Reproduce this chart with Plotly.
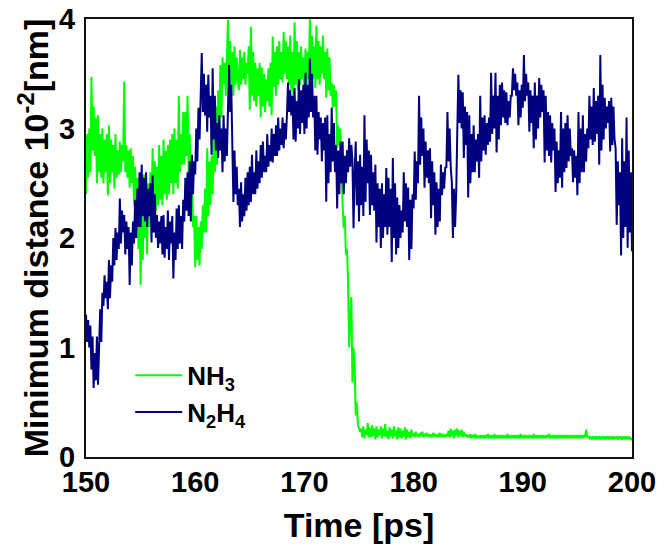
import numpy as np
import plotly.graph_objects as go

# time grid: 150 to 200 ps, 0.1 ps step
time_ps = np.round(np.arange(150.0, 200.00001, 0.1), 1)

# NH3 minimum distance (10^-2 nm), 10 samples per ps
nh3 = [
    2.40, 2.95, 2.55, 3.00, 2.60, 3.47, 2.80, 3.20, 2.75, 3.10,  # 150
    2.50, 3.12, 2.60, 2.95, 2.55, 3.00, 2.50, 2.90, 2.60, 2.95,  # 151
    2.39, 3.03, 2.50, 2.90, 2.60, 2.85, 2.45, 2.95, 2.55, 2.80,  # 152
    2.58, 2.88, 2.60, 2.85, 2.70, 3.43, 2.60, 2.85, 2.55, 2.80,  # 153
    2.46, 2.82, 2.50, 2.75, 2.30, 2.65, 2.10, 2.55, 1.90, 2.40,  # 154
    1.57, 2.30, 1.80, 2.58, 2.00, 2.45, 1.85, 2.50, 2.10, 2.60,  # 155
    2.20, 2.82, 2.30, 2.70, 2.25, 2.65, 2.30, 2.85, 2.35, 2.75,  # 156
    2.30, 2.90, 2.40, 2.80, 2.35, 2.85, 2.40, 2.90, 2.50, 2.95,  # 157
    2.40, 3.00, 2.50, 2.90, 2.45, 3.30, 2.60, 2.95, 2.67, 3.15,  # 158
    2.67, 3.15, 2.75, 3.30, 2.60, 2.95, 2.30, 2.60, 2.10, 2.20,  # 159
    1.73, 2.20, 1.80, 2.10, 1.75, 2.15, 1.90, 2.30, 2.05, 2.45,  # 160
    2.05, 2.82, 2.20, 2.70, 2.30, 2.75, 2.40, 2.90, 2.60, 3.20,  # 161
    2.67, 3.35, 2.90, 3.58, 3.10, 3.65, 3.41, 3.60, 3.30, 3.70,  # 162
    3.99, 3.26, 3.80, 3.40, 3.70, 3.30, 3.75, 3.40, 3.65, 3.45,  # 163
    3.35, 3.72, 3.40, 3.65, 3.45, 3.70, 3.40, 3.60, 3.50, 3.75,  # 164
    3.17, 3.93, 3.30, 3.70, 3.25, 3.60, 3.20, 3.55, 3.30, 3.60,  # 165
    3.10, 3.56, 3.20, 3.50, 3.15, 3.45, 3.25, 3.55, 3.20, 3.60,  # 166
    3.12, 3.84, 3.38, 3.70, 3.30, 3.75, 3.40, 3.80, 3.45, 3.70,  # 167
    3.42, 3.88, 3.50, 3.80, 3.45, 3.75, 3.40, 3.85, 3.35, 3.70,  # 168
    3.28, 3.97, 3.40, 3.80, 3.35, 3.70, 3.40, 3.75, 3.45, 3.65,  # 169
    3.33, 3.73, 3.40, 3.70, 3.45, 4.00, 3.50, 3.85, 3.45, 3.75,  # 170
    3.37, 3.94, 3.45, 3.80, 3.40, 3.75, 3.50, 3.85, 3.45, 3.70,  # 171
    3.28, 3.73, 3.35, 3.65, 3.30, 3.42, 3.19, 3.40, 3.20, 3.35,  # 172
    2.82, 3.03, 2.85, 3.00, 2.50, 2.30, 2.09, 2.20, 1.85, 1.90,  # 173
    1.60, 1.00, 1.30, 1.46, 0.68, 1.00, 0.84, 0.38, 0.50, 0.30,  # 174
    0.26, 0.23, 0.26, 0.18, 0.28, 0.17, 0.25, 0.20, 0.31, 0.18,  # 175
    0.27, 0.18, 0.29, 0.19, 0.26, 0.16, 0.28, 0.18, 0.25, 0.20,  # 176
    0.28, 0.17, 0.26, 0.19, 0.30, 0.18, 0.24, 0.16, 0.27, 0.19,  # 177
    0.25, 0.17, 0.28, 0.19, 0.24, 0.16, 0.27, 0.18, 0.26, 0.17,  # 178
    0.24, 0.19, 0.27, 0.16, 0.25, 0.18, 0.23, 0.17, 0.25, 0.19,  # 179
    0.22, 0.18, 0.23, 0.19, 0.21, 0.18, 0.22, 0.19, 0.23, 0.18,  # 180
    0.21, 0.19, 0.22, 0.18, 0.21, 0.19, 0.20, 0.18, 0.22, 0.19,  # 181
    0.21, 0.18, 0.20, 0.19, 0.22, 0.18, 0.21, 0.19, 0.20, 0.18,  # 182
    0.21, 0.19, 0.24, 0.18, 0.26, 0.19, 0.24, 0.17, 0.25, 0.20,  # 183
    0.26, 0.18, 0.24, 0.19, 0.25, 0.18, 0.23, 0.19, 0.21, 0.18,  # 184
    0.20, 0.18, 0.21, 0.17, 0.20, 0.18, 0.21, 0.17, 0.20, 0.18,  # 185
    0.19, 0.17, 0.20, 0.18, 0.19, 0.17, 0.20, 0.18, 0.21, 0.17,  # 186
    0.20, 0.18, 0.19, 0.17, 0.21, 0.18, 0.19, 0.17, 0.20, 0.18,  # 187
    0.19, 0.17, 0.20, 0.18, 0.19, 0.17, 0.21, 0.18, 0.19, 0.17,  # 188
    0.20, 0.18, 0.19, 0.17, 0.20, 0.18, 0.19, 0.17, 0.21, 0.18,  # 189
    0.19, 0.17, 0.20, 0.18, 0.19, 0.17, 0.20, 0.18, 0.19, 0.17,  # 190
    0.21, 0.18, 0.19, 0.17, 0.20, 0.18, 0.19, 0.17, 0.20, 0.18,  # 191
    0.19, 0.17, 0.20, 0.18, 0.21, 0.17, 0.19, 0.18, 0.20, 0.17,  # 192
    0.19, 0.18, 0.20, 0.17, 0.19, 0.18, 0.20, 0.17, 0.19, 0.18,  # 193
    0.20, 0.17, 0.19, 0.18, 0.20, 0.17, 0.19, 0.18, 0.20, 0.17,  # 194
    0.19, 0.18, 0.20, 0.17, 0.19, 0.18, 0.20, 0.18, 0.25, 0.19,  # 195
    0.18, 0.17, 0.19, 0.16, 0.18, 0.17, 0.19, 0.16, 0.18, 0.17,  # 196
    0.19, 0.16, 0.18, 0.17, 0.19, 0.16, 0.18, 0.17, 0.19, 0.16,  # 197
    0.18, 0.17, 0.19, 0.16, 0.18, 0.17, 0.18, 0.16, 0.19, 0.17,  # 198
    0.18, 0.16, 0.18, 0.17, 0.19, 0.16, 0.18, 0.17, 0.18, 0.16,  # 199
    0.17,                                                        # 200
]

# N2H4 minimum distance (10^-2 nm), 10 samples per ps
n2h4 = [
    1.30, 1.05, 1.25, 1.00, 1.20, 0.80, 1.10, 0.63, 0.95, 0.70,  # 150
    1.10, 0.66, 1.00, 1.35, 1.05, 1.50, 1.38, 1.66, 1.45, 1.60,  # 151
    1.35, 1.80, 1.45, 1.75, 1.60, 2.00, 1.75, 2.09, 1.80, 2.05,  # 152
    1.90, 2.36, 1.95, 2.25, 2.05, 2.21, 1.85, 2.15, 1.90, 2.10,  # 153
    1.57, 2.05, 1.75, 2.15, 1.95, 2.35, 2.00, 2.45, 2.10, 2.60,  # 154
    2.10, 2.67, 2.20, 2.55, 2.15, 2.60, 2.10, 2.45, 2.20, 2.50,  # 155
    1.96, 2.57, 2.05, 2.40, 2.00, 2.21, 1.91, 2.15, 1.95, 2.20,  # 156
    1.85, 2.21, 1.82, 2.10, 1.90, 2.25, 1.80, 2.15, 1.95, 2.20,  # 157
    1.63, 2.05, 1.80, 2.27, 1.90, 2.30, 1.95, 2.20, 1.90, 2.35,  # 158
    2.15, 2.55, 2.25, 2.60, 2.20, 2.70, 2.15, 2.76, 2.40, 2.70,  # 159
    2.58, 3.00, 2.70, 3.19, 2.90, 3.45, 3.69, 3.15, 3.50, 3.12,  # 160
    3.40, 2.97, 3.49, 3.10, 3.30, 2.76, 3.55, 2.90, 3.30, 2.80,  # 161
    3.05, 2.73, 3.12, 2.80, 3.00, 2.60, 3.12, 2.70, 3.00, 2.75,  # 162
    3.30, 3.58, 3.15, 3.40, 2.85, 2.33, 2.80, 2.40, 2.65, 2.30,  # 163
    2.45, 2.10, 2.51, 2.15, 2.40, 2.20, 2.55, 2.25, 2.60, 2.30,  # 164
    2.65, 2.33, 2.76, 2.40, 2.60, 2.40, 2.80, 2.45, 2.70, 2.50,  # 165
    2.85, 2.55, 2.88, 2.60, 2.75, 2.60, 2.95, 2.65, 2.85, 2.70,  # 166
    3.00, 2.69, 2.95, 2.75, 3.03, 2.75, 3.10, 2.80, 3.00, 2.85,  # 167
    3.10, 2.82, 3.05, 2.90, 3.12, 3.42, 3.15, 3.35, 3.12, 3.30,  # 168
    2.90, 3.37, 2.88, 3.25, 3.00, 3.45, 2.95, 3.35, 3.05, 3.40,  # 169
    2.95, 3.51, 3.00, 3.40, 3.10, 3.64, 3.15, 3.50, 3.10, 3.30,  # 170
    2.80, 3.30, 2.76, 3.15, 2.90, 3.10, 2.70, 3.05, 2.80, 3.10,  # 171
    2.33, 3.12, 2.50, 2.95, 2.60, 3.19, 2.70, 3.05, 2.60, 2.85,  # 172
    2.27, 2.80, 2.40, 2.88, 2.50, 2.88, 2.40, 2.75, 2.50, 2.80,  # 173
    2.60, 2.91, 2.65, 2.85, 2.70, 2.09, 2.60, 2.88, 2.30, 2.70,  # 174
    2.15, 2.76, 2.30, 2.65, 2.20, 3.12, 2.33, 2.90, 2.50, 2.80,  # 175
    2.21, 2.76, 2.30, 2.60, 2.25, 2.67, 1.96, 2.50, 2.10, 2.45,  # 176
    1.91, 2.50, 2.00, 2.40, 2.10, 2.64, 2.03, 2.55, 2.10, 2.45,  # 177
    1.78, 2.73, 2.00, 2.50, 1.85, 2.37, 1.91, 2.30, 2.00, 2.25,  # 178
    2.05, 2.60, 2.15, 2.50, 2.10, 2.46, 1.80, 2.35, 1.90, 2.40,  # 179
    2.27, 2.79, 2.35, 2.70, 2.50, 3.30, 2.67, 3.10, 2.75, 3.00,  # 180
    2.46, 2.88, 2.55, 2.80, 2.50, 2.82, 2.18, 2.70, 2.30, 2.60,  # 181
    2.03, 2.51, 2.10, 2.45, 2.15, 2.67, 2.39, 2.60, 2.45, 2.65,  # 182
    2.64, 3.15, 2.70, 3.00, 2.65, 2.51, 2.00, 2.45, 2.10, 2.40,  # 183
    2.97, 3.49, 3.05, 3.35, 3.00, 3.33, 2.73, 3.20, 2.85, 3.15,  # 184
    2.37, 3.12, 2.50, 2.95, 2.60, 3.03, 2.60, 2.90, 2.70, 2.95,  # 185
    2.55, 3.30, 2.70, 3.10, 2.80, 3.12, 2.76, 3.05, 2.85, 3.10,  # 186
    2.88, 3.51, 2.95, 3.30, 3.00, 3.51, 2.78, 3.30, 2.90, 3.40,  # 187
    3.03, 3.42, 3.10, 3.35, 3.05, 3.33, 3.03, 3.25, 3.10, 3.30,  # 188
    3.30, 3.55, 3.35, 3.50, 3.30, 3.42, 3.03, 3.35, 3.10, 3.40,  # 189
    3.19, 3.67, 3.25, 3.50, 3.30, 3.42, 2.97, 3.35, 3.05, 3.30,  # 190
    2.82, 3.42, 2.90, 3.30, 3.00, 3.46, 3.10, 3.40, 3.15, 3.35,  # 191
    2.69, 3.30, 2.80, 3.15, 2.75, 3.12, 2.69, 3.05, 2.80, 3.00,  # 192
    2.42, 2.88, 2.50, 2.80, 2.55, 3.15, 2.46, 3.00, 2.60, 3.05,  # 193
    2.64, 3.12, 2.70, 3.00, 2.75, 2.82, 2.51, 2.80, 2.55, 2.75,  # 194
    2.39, 3.15, 2.50, 3.00, 2.60, 3.12, 2.60, 2.95, 2.70, 3.00,  # 195
    2.82, 3.30, 2.90, 3.20, 2.85, 3.37, 2.88, 3.25, 2.95, 3.30,  # 196
    2.67, 3.67, 2.80, 3.40, 2.90, 3.28, 3.00, 3.20, 3.05, 3.25,  # 197
    2.79, 3.28, 2.85, 3.20, 2.90, 2.82, 2.12, 2.70, 2.30, 2.60,  # 198
    1.84, 2.91, 2.00, 2.70, 2.10, 3.10, 1.91, 2.80, 2.05, 2.60,  # 199
    1.88,                                                        # 200
]

x_ticks = [150, 160, 170, 180, 190, 200]
y_ticks = [0, 1, 2, 3, 4]

FONT = "Liberation Sans, Arial, sans-serif"

fig = go.Figure()
fig.add_trace(go.Scatter(x=time_ps, y=nh3, mode="lines", name="NH<sub>3</sub>",
                         line=dict(color="#00ff00", width=2)))
fig.add_trace(go.Scatter(x=time_ps, y=n2h4, mode="lines", name="N<sub>2</sub>H<sub>4</sub>",
                         line=dict(color="#000080", width=2)))

axis_common = dict(showline=True, linecolor="#111111", linewidth=2, mirror=True,
                   showgrid=False, zeroline=False, ticks="", automargin=False,
                   ticklabeloverflow="allow",
                   tickfont=dict(family=FONT, size=29, color="black", weight="bold"))

# the page body has an 8 px margin, so the figure is sized and offset for it
fig.update_layout(
    width=648, height=536,
    margin=dict(l=78, r=24, t=11, b=87),
    paper_bgcolor="white", plot_bgcolor="white",
    font=dict(family=FONT, color="black"),
    xaxis=dict(range=[150, 200], tickvals=x_ticks, ticklabelstandoff=-2, **axis_common,
               title=dict(text="Time [ps]", standoff=19,
                          font=dict(family=FONT, size=34, weight="bold"))),
    yaxis=dict(range=[0, 4], tickvals=y_ticks, ticklabelstandoff=3, **axis_common,
               title=dict(text="Minimum distance 10<sup>-2</sup>[nm]", standoff=0,
                          font=dict(family=FONT, size=34, weight="bold"))),
    legend=dict(x=0.081, y=0.24, xanchor="left", yanchor="top",
                bgcolor="rgba(0,0,0,0)", itemwidth=47,
                font=dict(family=FONT, size=26, color="black", weight="bold")),
)

fig.write_html("out.html")
